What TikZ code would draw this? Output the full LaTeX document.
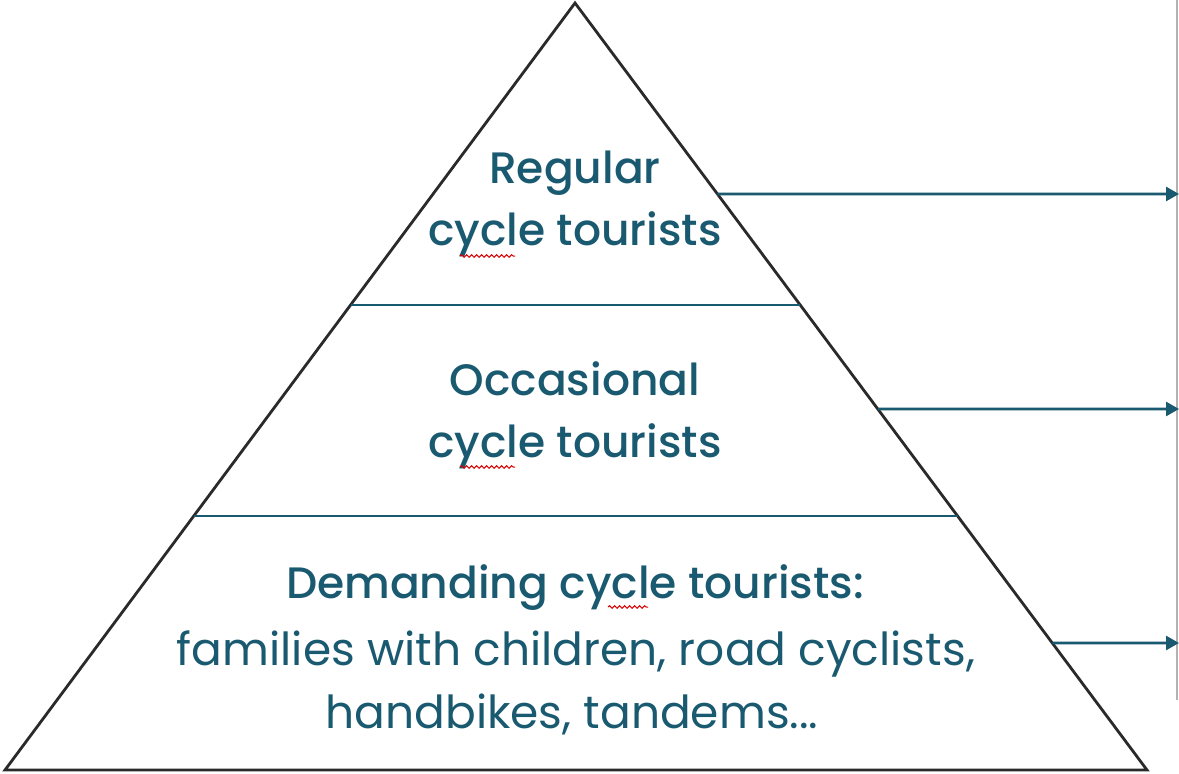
\documentclass[tikz,border=0pt]{standalone}
\usepackage{fontspec}
\setmainfont{Poppins}
\newfontfamily\medfont{Poppins Medium}
\usetikzlibrary{calc,arrows.meta,decorations.pathmorphing}
\definecolor{teal}{HTML}{1A5A70}
\definecolor{edge}{HTML}{2A2A2A}
\tikzset{
  title/.style={anchor=base,text=teal,font=\medfont\fontsize{44}{50}\selectfont,inner sep=0pt},
  body/.style={anchor=base,text=teal,font=\fontsize{45.5}{50}\selectfont,inner sep=0pt},
  divider/.style={draw=teal,line width=2pt},
  pointer/.style={draw=teal,line width=2.6pt,-{Triangle[length=13pt,width=14pt]}},
  squiggle/.style={draw=red!85!black,line width=1pt,decorate,decoration={snake,amplitude=1.3pt,segment length=5pt}}
}
\begin{document}
\begin{tikzpicture}[x=1pt,y=-1pt]
\useasboundingbox (0,0) rectangle (1179,774);
\fill[white] (0,0) rectangle (1179,774);
\draw[gray!60,line width=1.2pt] (1177,0) -- (1177,700);
\coordinate (apex) at (575,3);
\coordinate (bl) at (5,770);
\coordinate (br) at (1147,770);
\draw[edge,line width=2.8pt,line join=miter] (apex) -- (br) -- (bl) -- cycle;
% dividers
\coordinate (d1l) at ($(apex)!302/767!(bl)$);
\coordinate (d1r) at ($(apex)!302/767!(br)$);
\coordinate (d2l) at ($(apex)!513/767!(bl)$);
\coordinate (d2r) at ($(apex)!513/767!(br)$);
\draw[divider] (d1l) -- (d1r);
\draw[divider] (d2l) -- (d2r);
% arrows
\coordinate (a1s) at ($(apex)!191/767!(br)$);
\coordinate (a2s) at ($(apex)!406/767!(br)$);
\coordinate (a3s) at ($(apex)!640/767!(br)$);
\coordinate (a1e) at (1179,194);
\coordinate (a2e) at (1179,409);
\coordinate (a3e) at (1179,643);
\draw[pointer] (a1s) -- (a1e);
\draw[pointer] (a2s) -- (a2e);
\draw[pointer] (a3s) -- (a3e);
% texts
\node[title] (t1a) at (575,183) {Regular};
\node[title] (t1b) at (575,245) {cycle tourists};
\node[title] (t2a) at (575,395) {Occasional};
\node[title] (t2b) at (575,457) {cycle tourists};
\node[title] (t3a) at (575,598) {Demanding cycle tourists:};
\node[body] (t3b) at (576,665) {families with children, road cyclists,};
\node[body] (t3c) at (572,728) {handbikes, tandems...};
% spell-check marks
\draw[squiggle] (460,256) -- (515,256);
\draw[squiggle] (460,467) -- (515,467);
\draw[squiggle] (608,607) -- (648,607);
\end{tikzpicture}
\end{document}
